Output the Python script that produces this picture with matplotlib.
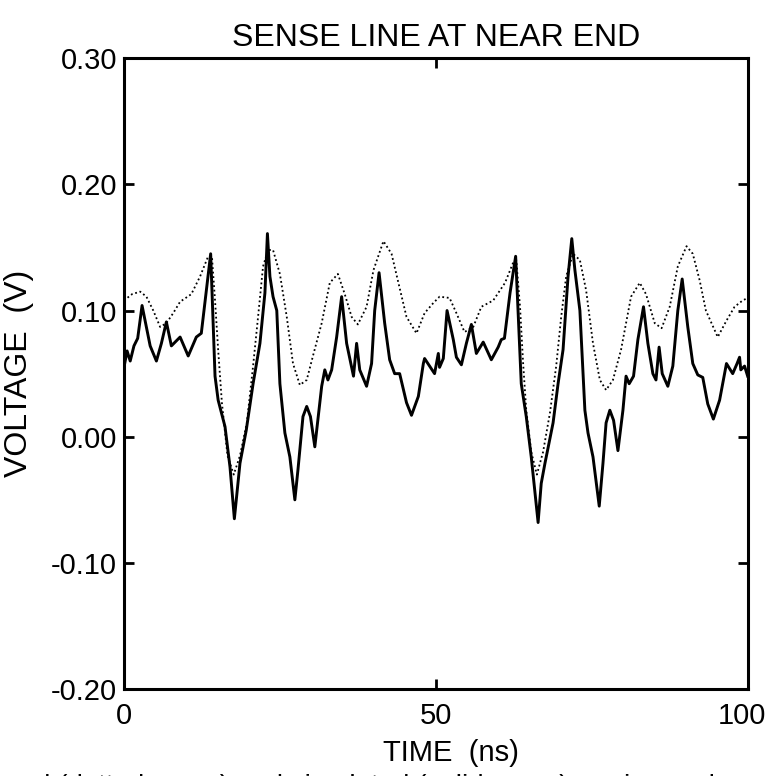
"""
Sense line at near end - measured (dotted) vs. simulated (solid) crosstalk voltage.
"""
import matplotlib
matplotlib.use("Agg")
import matplotlib.pyplot as plt
from matplotlib.transforms import ScaledTranslation

# ------------------------------------------------------------------ Daten
# simuliert (durchgezogen)
SIM_T = [0, 0.5, 1.0, 1.6, 2.2, 2.9, 4.2, 5.2, 6.0, 6.8, 7.6, 9.0, 10.3, 11.6, 12.4,
         13.2, 13.9, 14.6, 15.1, 16.2, 17.0, 17.7, 18.6, 19.6, 20.7, 21.8, 22.6,
         23.0, 23.4, 23.9, 24.5, 25.0, 25.8, 26.6, 27.4, 27.9, 28.7, 29.3, 29.9,
         30.6, 31.7, 32.2, 32.7, 33.3, 34.1, 34.9, 35.7, 36.8, 37.3, 37.8, 38.9,
         39.7, 40.2, 40.9, 41.8, 42.6, 43.4, 44.2, 45.3, 46.1, 47.2, 48.0, 48.2,
         49.0, 49.8, 50.4, 50.6, 51.2, 51.8, 52.8, 53.3, 54.1, 54.9, 55.7, 56.5,
         57.6, 58.9, 60.0, 60.5, 61.0, 61.9, 62.8, 63.7, 64.5, 65.3, 66.4, 66.9,
         67.5, 68.8, 69.6, 70.4, 71.2, 71.8, 72.3, 73.1, 73.9, 74.4, 75.2, 76.2,
         76.8, 77.3, 77.9, 78.5, 79.2, 80.0, 80.5, 81.0, 81.7, 82.4, 83.3, 84.0,
         84.8, 85.3, 85.8, 86.3, 87.2, 88.0, 88.8, 89.5, 90.4, 91.2, 92.0, 92.8,
         93.6, 94.5, 95.5, 96.6, 97.6, 98.3, 98.7, 98.9, 99.5, 100]
SIM_V = [0.055, 0.068, 0.060, 0.072, 0.078, 0.104, 0.072, 0.060, 0.074, 0.091, 0.072,
         0.079, 0.064, 0.079, 0.082, 0.116, 0.145, 0.048, 0.029, 0.008, -0.024,
         -0.065, -0.021, 0.005, 0.042, 0.074, 0.114, 0.161, 0.127, 0.111, 0.100,
         0.042, 0.003, -0.016, -0.050, -0.026, 0.016, 0.024, 0.016, -0.008, 0.040,
         0.053, 0.045, 0.053, 0.079, 0.111, 0.074, 0.048, 0.074, 0.053, 0.040,
         0.058, 0.100, 0.130, 0.090, 0.061, 0.050, 0.050, 0.027, 0.017, 0.032,
         0.058, 0.062, 0.056, 0.050, 0.066, 0.055, 0.062, 0.100, 0.077, 0.063,
         0.057, 0.074, 0.089, 0.066, 0.075, 0.061, 0.071, 0.077, 0.078, 0.114,
         0.143, 0.042, 0.016, -0.016, -0.068, -0.037, -0.021, 0.011, 0.042, 0.069,
         0.127, 0.157, 0.132, 0.100, 0.021, 0.003, -0.016, -0.055, -0.021, 0.011,
         0.021, 0.013, -0.011, 0.021, 0.048, 0.042, 0.048, 0.077, 0.103, 0.074,
         0.050, 0.045, 0.071, 0.050, 0.040, 0.056, 0.100, 0.125, 0.087, 0.058,
         0.049, 0.047, 0.026, 0.014, 0.029, 0.058, 0.050, 0.058, 0.063, 0.053,
         0.056, 0.048]

# gemessen (gepunktet)
MEAS_T = [0, 1.3, 2.6, 3.6, 4.7, 5.8, 6.8, 7.9, 9.0, 10.8, 12.2, 13.5, 14.1, 14.6,
          15.1, 15.7, 16.6, 17.6, 18.6, 19.7, 20.7, 21.5, 22.3, 23.1, 23.9, 25.0,
          26.1, 27.1, 28.2, 29.3, 30.3, 31.7, 33.0, 34.3, 35.4, 36.5, 37.5, 38.9,
          40.0, 41.6, 42.9, 44.0, 45.3, 46.9, 48.2, 49.6, 50.6, 52.2, 53.3, 54.6,
          56.0, 57.3, 59.2, 61.1, 62.4, 62.9, 63.5, 64.0, 64.5, 65.3, 66.2, 67.2,
          68.3, 69.3, 70.1, 70.9, 72.0, 73.1, 74.1, 75.2, 76.3, 77.3, 78.4, 79.7,
          81.3, 82.7, 83.7, 85.1, 86.2, 87.5, 88.8, 90.2, 91.2, 92.3, 93.3, 95.2,
          96.6, 97.9, 99.2, 100]
MEAS_V = [0.108, 0.113, 0.115, 0.111, 0.100, 0.087, 0.090, 0.098, 0.107, 0.113,
          0.127, 0.143, 0.143, 0.108, 0.069, 0.027, -0.015, -0.030, -0.015, 0.011,
          0.056, 0.095, 0.135, 0.148, 0.148, 0.129, 0.095, 0.058, 0.041, 0.045,
          0.064, 0.090, 0.122, 0.129, 0.113, 0.095, 0.089, 0.103, 0.132, 0.155,
          0.145, 0.122, 0.095, 0.082, 0.098, 0.106, 0.111, 0.110, 0.098, 0.083,
          0.087, 0.103, 0.108, 0.122, 0.138, 0.140, 0.103, 0.058, 0.021, -0.012,
          -0.030, -0.012, 0.019, 0.056, 0.095, 0.127, 0.145, 0.140, 0.116, 0.074,
          0.045, 0.037, 0.045, 0.069, 0.111, 0.122, 0.113, 0.090, 0.086, 0.103,
          0.135, 0.151, 0.145, 0.124, 0.100, 0.079, 0.092, 0.103, 0.108, 0.110]

X_TICKS = [0, 50, 100]
Y_TICKS = [-0.20, -0.10, 0.00, 0.10, 0.20, 0.30]
Y_LABELS = ["-0.20", "-0.10", "0.00", "0.10", "0.20", "0.30"]

TITLE = "SENSE LINE AT NEAR END"
XLABEL = "TIME  (ns)"
YLABEL = "VOLTAGE  (V)"
CAPTION = "d (dotted curve) and simulated (solid curve) are in good agreement."

plt.rcParams["font.family"] = ["Liberation Sans", "DejaVu Sans"]


def main():
    fig = plt.figure(figsize=(7.7, 7.76), dpi=100)
    ax = fig.add_axes([0.161, 0.112, 0.810, 0.813])

    ax.plot(MEAS_T, MEAS_V, color="black", lw=1.3, ls=(0, (1, 1.5)))
    ax.plot(SIM_T, SIM_V, color="black", lw=2.1)

    ax.set_xlim(0, 100); ax.set_ylim(-0.20, 0.30)
    ax.set_xticks(X_TICKS)
    ax.set_yticks(Y_TICKS)
    ax.set_yticklabels(Y_LABELS)
    ax.tick_params(direction="in", length=7, width=2, labelsize=21,
                   top=True, right=True)
    ax.tick_params(axis="x", pad=9)
    ax.tick_params(axis="y", pad=5)
    for s in ax.spines.values():
        s.set_linewidth(2.2)

    # "100" etwas nach links, sonst ragt es ueber den Bildrand
    last = ax.get_xticklabels()[-1]
    last.set_transform(last.get_transform() + ScaledTranslation(-6 / 100, 0, fig.dpi_scale_trans))

    ax.set_title(TITLE, fontsize=23, pad=9)
    ax.set_xlabel(XLABEL, fontsize=21, labelpad=12)
    ax.xaxis.set_label_coords(0.525, -0.079)
    ax.set_ylabel(YLABEL, fontsize=23, labelpad=12)

    # abgeschnittene Bildunterschrift am unteren Rand
    fig.text(0.045, 0.003, CAPTION, fontsize=20, va="top", ha="left")

    fig.savefig("out.png", dpi=100)
    plt.close(fig)


if __name__ == "__main__":
    main()
